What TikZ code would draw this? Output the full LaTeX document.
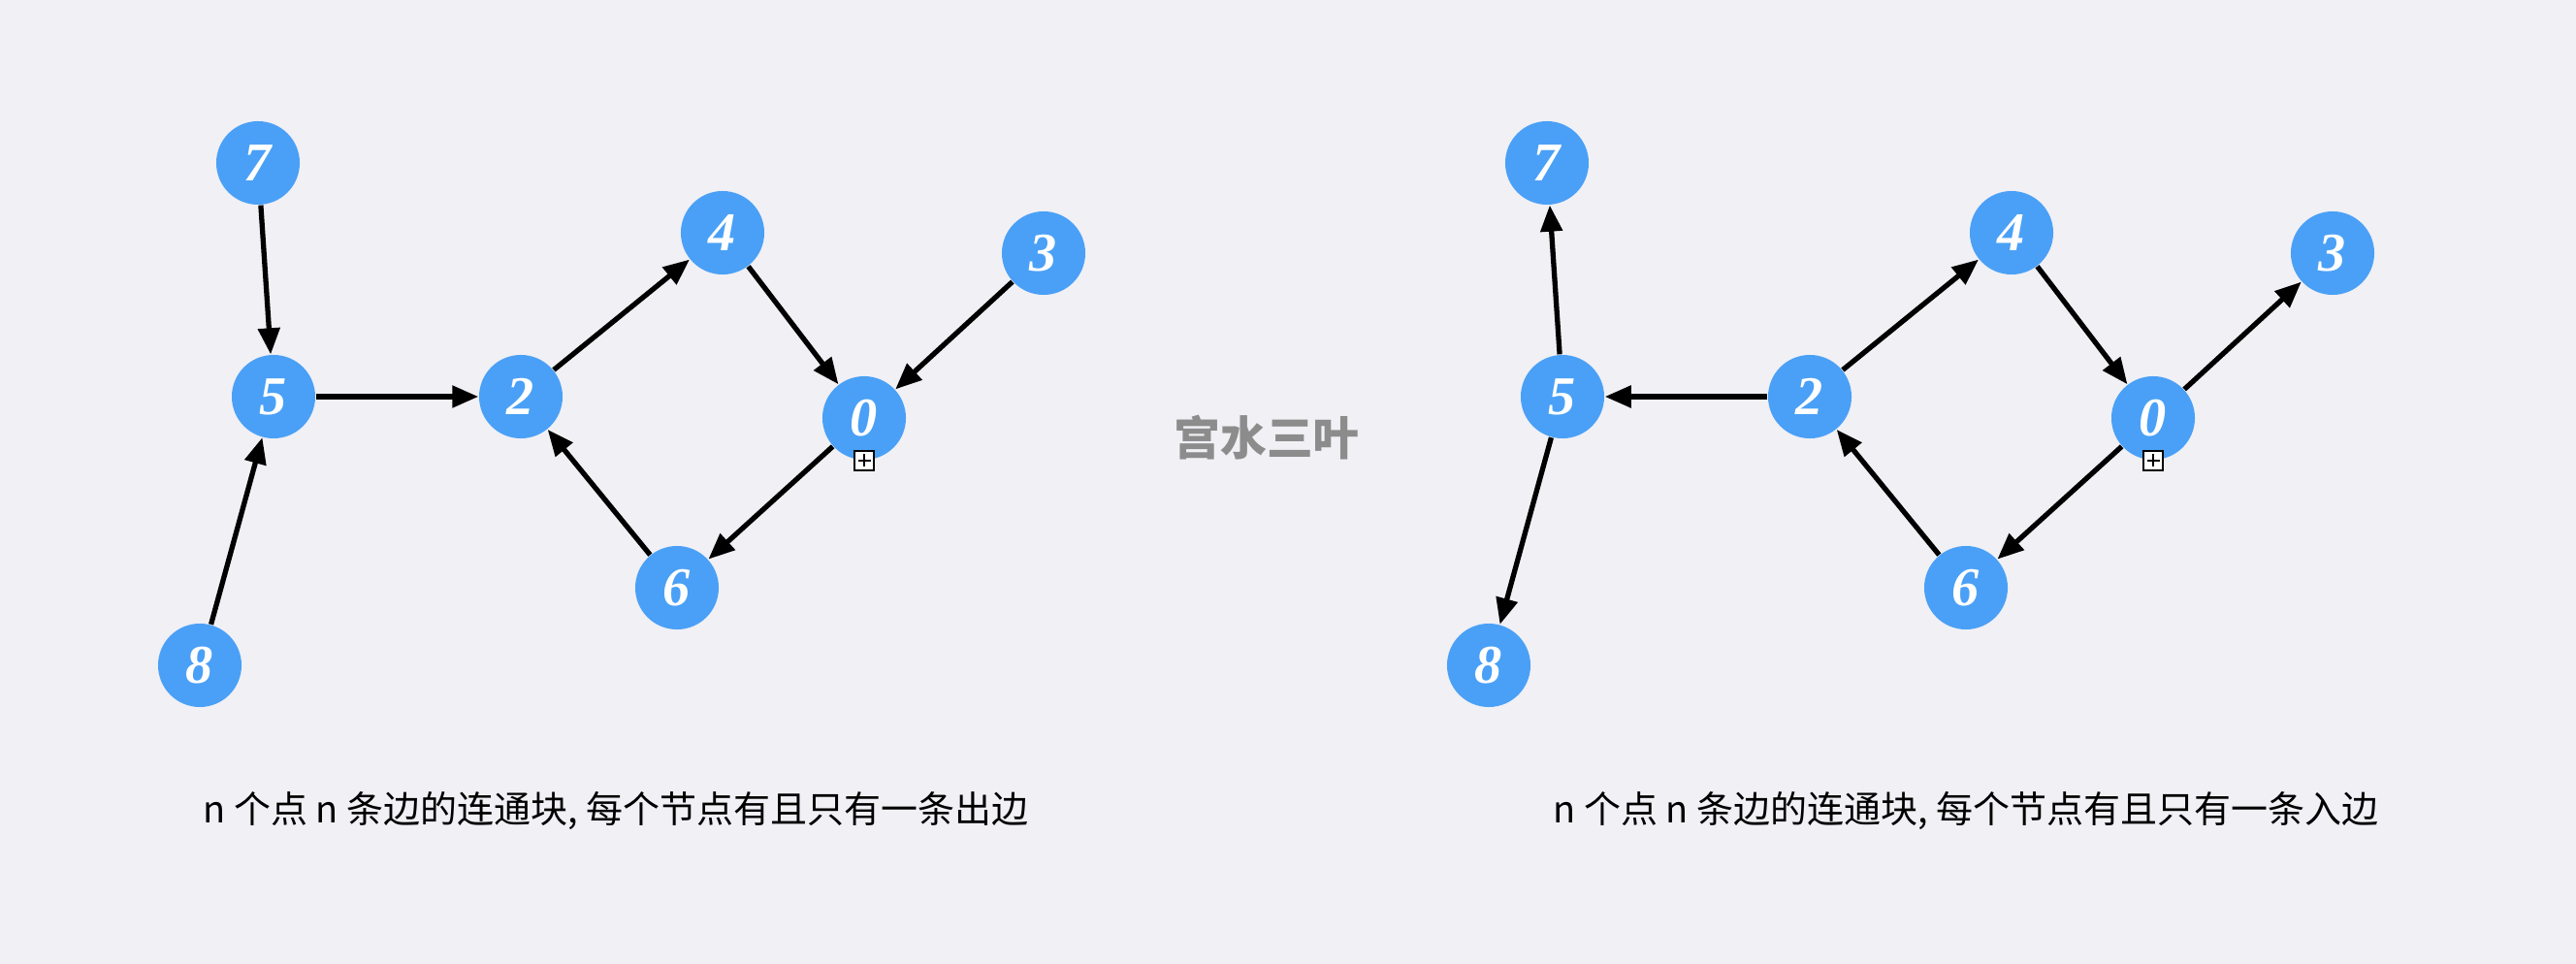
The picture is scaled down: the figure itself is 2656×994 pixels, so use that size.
\documentclass[tikz,border=0pt]{standalone}
\usepackage{fontspec}
\usepackage{xcolor}
\definecolor{bgcol}{RGB}{240,240,245}
\definecolor{nodeblue}{RGB}{74,160,246}
\definecolor{markgray}{RGB}{140,140,140}
\newfontfamily\cjkfont{Noto Sans CJK SC}
\newfontfamily\numfont{Liberation Serif}
\usetikzlibrary{arrows.meta}

\begin{document}
\begin{tikzpicture}[
    % GLOBAL CFG
    x=0.01cm, y=-0.01cm,
    >={Triangle[length=0.27cm,width=0.22cm]},
    % Styles
    vert/.style={% For the numbered points
        circle,
        fill=nodeblue,
        minimum size=0.86cm,
        inner sep=0pt,
        text=white,
        font=\numfont\bfseries\itshape\fontsize{16pt}{17pt}\selectfont,
        },
    edge/.style={% For the arrows
        ->,
        line width=1.5pt,
        },
    plusbox/.style={% For the small box under 0
        rectangle,
        draw,
        fill=white,
        line width=0.6pt,
        minimum size=0.2cm,
        inner sep=0pt,
        path picture={
            \draw[line width=0.6pt] ([yshift=-0.35mm]path picture bounding box.north) -- ([yshift=0.35mm]path picture bounding box.south);
            \draw[line width=0.6pt] ([xshift=0.35mm]path picture bounding box.west) -- ([xshift=-0.35mm]path picture bounding box.east);
            },
        },
    caption/.style={% For the texts under the graphs
        font=\cjkfont\fontsize{10.8pt}{12pt}\selectfont,
        },
    watermark/.style={% For the name in the middle
        text=markgray,
        font=\cjkfont\bfseries\fontsize{13.6pt}{15pt}\selectfont,
        },
    ]

    % Background
    \fill[bgcol] (0,0) rectangle (2656,994);

    % Left graph: nodes named l#
    \node[vert] (l7) at (266,168) {7};
    \node[vert] (l5) at (282,409) {5};
    \node[vert] (l8) at (206,686) {8};
    \node[vert] (l2) at (537,409) {2};
    \node[vert] (l4) at (745,240) {4};
    \node[vert] (l3) at (1076,261) {3};
    \node[vert] (l0) at (891,431) {0};
    \node[vert] (l6) at (698,606) {6};
    \node[plusbox] (lplus) at (l0.south) {};

    % Right graph: nodes named r#
    \node[vert] (r7) at (1595,168) {7};
    \node[vert] (r5) at (1611,409) {5};
    \node[vert] (r8) at (1535,686) {8};
    \node[vert] (r2) at (1866,409) {2};
    \node[vert] (r4) at (2074,240) {4};
    \node[vert] (r3) at (2405,261) {3};
    \node[vert] (r0) at (2220,431) {0};
    \node[vert] (r6) at (2027,606) {6};
    \node[plusbox] (rplus) at (r0.south) {};

    % Left arrows: every point has one out edge
    \draw[edge] (l7) -- (l5);
    \draw[edge] (l8) -- (l5);
    \draw[edge] (l5) -- (l2);
    \draw[edge] (l2) -- (l4);
    \draw[edge] (l4) -- (l0);
    \draw[edge] (l3) -- (l0);
    \draw[edge] (l0) -- (l6);
    \draw[edge] (l6) -- (l2);

    % Right arrows: every point has one in edge
    \draw[edge] (r5) -- (r7);
    \draw[edge] (r5) -- (r8);
    \draw[edge] (r2) -- (r5);
    \draw[edge] (r2) -- (r4);
    \draw[edge] (r4) -- (r0);
    \draw[edge] (r0) -- (r3);
    \draw[edge] (r0) -- (r6);
    \draw[edge] (r6) -- (r2);

    % Texts
    \node[watermark] (mark) at (1306,451) {宫水三叶};
    \node[caption] (lcap) at (635,836) {n 个点 n 条边的连通块, 每个节点有且只有一条出边};
    \node[caption] (rcap) at (2027,836) {n 个点 n 条边的连通块, 每个节点有且只有一条入边};

\end{tikzpicture}
\end{document}
